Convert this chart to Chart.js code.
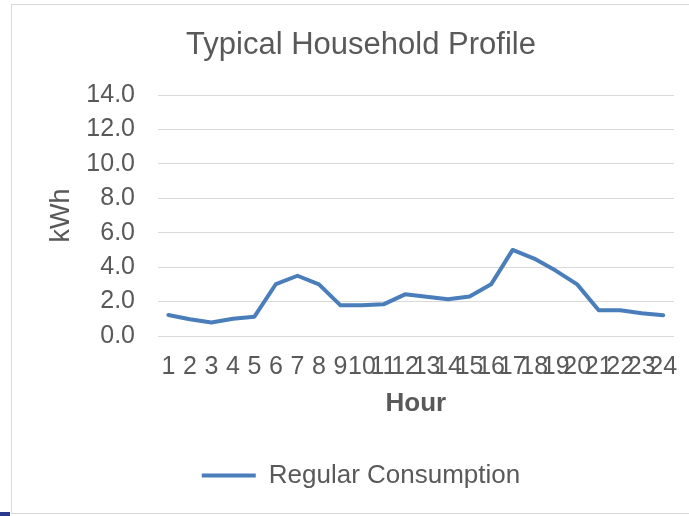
<!DOCTYPE html>
<html lang="en">
<head>
    <meta charset="UTF-8">
    <title>Typical Household Profile</title>
    <script src="https://cdn.jsdelivr.net/npm/chart.js"></script>
    <style>
        html, body { margin: 0; padding: 0; background: #fff; overflow: hidden; }
        #frame {
            position: absolute; left: 11px; top: 4px;
            width: 698px; height: 508px;
            border: 1px solid #d9d9d9;
        }
        #corner {
            position: absolute; left: 0; top: 512px;
            width: 10px; height: 4px; background: #2b3990;
        }
    </style>
</head>
<body>
    <div id="frame">
        <canvas id="profileChart" width="698" height="508"></canvas>
    </div>
    <div id="corner"></div>

    <script>
        // data
        var hours = ["1","2","3","4","5","6","7","8","9","10","11","12",
                     "13","14","15","16","17","18","19","20","21","22","23","24"];
        var regularConsumption = [1.22, 0.97, 0.78, 1.0, 1.12, 3.02, 3.5, 3.0, 1.78, 1.78, 1.84, 2.42,
                                  2.28, 2.13, 2.3, 3.0, 5.0, 4.5, 3.8, 3.0, 1.5, 1.5, 1.32, 1.2];
        var yTicks = [0, 2, 4, 6, 8, 10, 12, 14];

        var textColor = '#595959';
        var lineColor = '#4a7ebb';
        var fontFamily = 'Liberation Sans, Arial, sans-serif';

        var ctx = document.getElementById('profileChart').getContext('2d');
        new Chart(ctx, {
            type: 'line',
            data: {
                labels: hours,
                datasets: [{
                    label: 'Regular Consumption',
                    data: regularConsumption,
                    borderColor: lineColor,
                    backgroundColor: lineColor,
                    borderWidth: 4,
                    borderCapStyle: 'round',
                    borderJoinStyle: 'round',
                    pointRadius: 0,
                    tension: 0,
                    fill: false
                }]
            },
            options: {
                responsive: false,
                animation: false,
                devicePixelRatio: 1,
                layout: { padding: { left: 0, right: 0, top: 0, bottom: 14.5 } },
                plugins: {
                    title: {
                        display: true,
                        text: 'Typical Household Profile',
                        color: textColor,
                        font: { family: fontFamily, size: 31, weight: 'normal' },
                        padding: { top: 21.4, bottom: 31.4 }
                    },
                    legend: {
                        position: 'bottom',
                        labels: {
                            color: textColor,
                            font: { family: fontFamily, size: 26 },
                            usePointStyle: true,
                            pointStyle: 'line',
                            pointStyleWidth: 54,
                            padding: 10
                        }
                    },
                    tooltip: { enabled: false }
                },
                scales: {
                    x: {
                        offset: true,
                        grid: { display: false, drawTicks: false },
                        border: { display: false },
                        ticks: {
                            autoSkip: false,
                            maxRotation: 0,
                            minRotation: 0,
                            padding: 16.5,
                            color: textColor,
                            font: { family: fontFamily, size: 25 }
                        },
                        title: {
                            display: true,
                            text: 'Hour',
                            color: textColor,
                            font: { family: fontFamily, size: 26, weight: 'bold' },
                            padding: { top: 0, bottom: 33.4 }
                        },
                        afterFit: function (scale) { scale.height = 116.5; }
                    },
                    y: {
                        min: 0,
                        max: 14,
                        grid: { color: '#d9d9d9', lineWidth: 1, drawTicks: false },
                        border: { display: false },
                        afterBuildTicks: function (scale) {
                            scale.ticks = yTicks.map(function (v) { return { value: v }; });
                        },
                        ticks: {
                            padding: 22.6,
                            color: textColor,
                            font: { family: fontFamily, size: 25 },
                            callback: function (v) { return Number(v).toFixed(1); }
                        },
                        title: {
                            display: true,
                            text: 'kWh',
                            color: textColor,
                            font: { family: fontFamily, size: 27, weight: 'normal' },
                            padding: { top: 33.5, bottom: 0 }
                        },
                        afterFit: function (scale) { scale.width = 145.6; }
                    },
                    // empty right-hand spacer so the plot ends where the reference does
                    spacer: {
                        type: 'linear',
                        position: 'right',
                        grid: { display: false, drawTicks: false },
                        border: { display: false },
                        ticks: { display: false },
                        afterFit: function (scale) { scale.width = 36; }
                    }
                }
            }
        });
    </script>
</body>
</html>
